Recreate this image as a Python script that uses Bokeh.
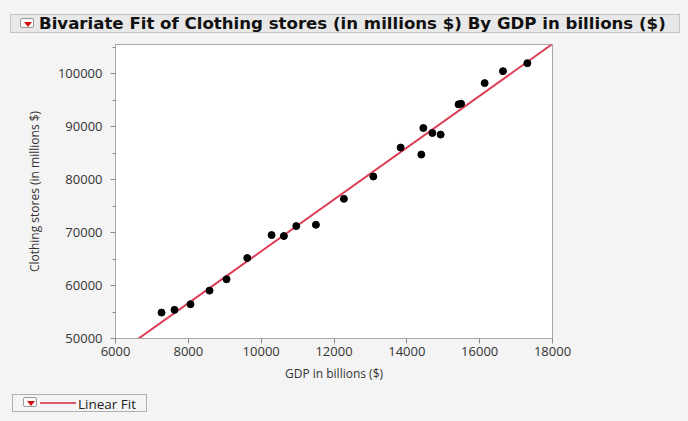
from bokeh.plotting import figure
from bokeh.models import Range1d, FixedTicker, Div, NumeralTickFormatter
from bokeh.layouts import column
from bokeh.embed import file_html
from bokeh.resources import INLINE
import numpy as np

# Data
gdp = [7264, 7621, 8060, 8582, 9049, 9618, 10286, 10624, 10964, 11503, 12272,
       13080, 13830, 14398, 14453, 14701, 14929, 15420, 15490, 16137, 16640, 17310]
clothing = [54896, 55405, 56478, 59040, 61186, 65198, 69529, 69341, 71224, 71469, 76365,
            80584, 86045, 84727, 89736, 88795, 88493, 94200, 94331, 98211, 100471, 101977]

x_ticks = [6000, 8000, 10000, 12000, 14000, 16000, 18000]
y_ticks = [50000, 60000, 70000, 80000, 90000, 100000]

title_text = "Bivariate Fit of Clothing stores (in millions $) By GDP in billions ($)"
x_label = "GDP in billions ($)"
y_label = "Clothing stores (in millions $)"
legend_text = "Linear Fit"

slope, intercept = np.polyfit(gdp, clothing, 1)
fit_x = [x_ticks[0], x_ticks[-1]]
fit_y = [intercept + slope * v for v in fit_x]

FONT = "Open Sans"
BG = "#f4f4f4"
FIT = "#dd3d55"

icon = ('<div style="position:absolute;left:{l}px;top:{t}px;width:14px;height:10px;'
        'background:#fafafa;border:1px solid #9a9a9a;border-radius:2px;">'
        '<div style="position:absolute;left:3px;top:3px;width:0;height:0;'
        'border-left:4px solid transparent;border-right:4px solid transparent;'
        'border-top:5px solid #d01010;"></div></div>')

title_html = ('<div style="position:relative;width:688px;height:40px;">'
              '<div style="position:absolute;left:10px;top:14px;width:670px;height:19px;'
              'background:#e8e8e8;border:1px solid #c4c4c4;"></div>'
              + icon.format(l=20, t=18) +
              '<div style="position:absolute;left:39px;top:12px;height:24px;line-height:24px;'
              'font-family:\'DejaVu Sans\';font-weight:bold;font-size:16.6px;color:#111;'
              'white-space:nowrap;">' + title_text + '</div></div>')
title_div = Div(text=title_html, width=688, height=40,
                styles={"background": BG, "margin": "0", "padding": "0"})

legend_html = ('<div style="position:relative;width:688px;height:31px;">'
               '<div style="position:absolute;left:12px;top:4px;width:135px;height:18px;'
               'background:' + BG + ';border:1px solid #b0b0b0;"></div>'
               + icon.format(l=23, t=7) +
               '<div style="position:absolute;left:40px;top:12px;width:36px;height:2px;'
               'background:#dd5a6e;"></div>'
               '<div style="position:absolute;left:78px;top:2px;height:24px;line-height:24px;'
               'font-family:\'Open Sans\';font-size:13.5px;color:#222;white-space:nowrap;">'
               + legend_text + '</div></div>')
legend_div = Div(text=legend_html, width=688, height=31,
                 styles={"background": BG, "margin": "0", "padding": "0"})

p = figure(width=688, height=350, output_backend="svg", toolbar_location=None,
           x_range=Range1d(6000, 18000), y_range=Range1d(50000, 105500),
           min_border_left=115, min_border_right=136, min_border_top=4, min_border_bottom=52)
p.background_fill_color = "white"
p.border_fill_color = BG
p.outline_line_color = "#a8a8a8"
p.grid.visible = False

p.xaxis.ticker = FixedTicker(ticks=x_ticks)
p.yaxis.ticker = FixedTicker(ticks=y_ticks, minor_ticks=[55000, 65000, 75000, 85000, 95000, 105000])
p.yaxis.formatter = NumeralTickFormatter(format="0")
p.xaxis.formatter = NumeralTickFormatter(format="0")
for ax in (p.xaxis[0], p.yaxis[0]):
    ax.axis_line_color = "#a8a8a8"
    ax.major_tick_line_color = "#8a8a8a"
    ax.minor_tick_line_color = "#8a8a8a"
    ax.major_tick_in = 0
    ax.major_tick_out = 5
    ax.minor_tick_in = 0
    ax.minor_tick_out = 3
    ax.major_label_text_font = FONT
    ax.major_label_text_font_size = "13px"
    ax.major_label_text_color = "#333333"
    ax.axis_label_text_font = FONT
    ax.axis_label_text_font_size = "12px"
    ax.axis_label_text_font_style = "normal"
    ax.axis_label_text_color = "#333333"
p.xaxis.minor_tick_line_color = None
p.xaxis.axis_label = x_label
p.yaxis.axis_label = y_label
p.xaxis.major_label_standoff = 3
p.xaxis.axis_label_standoff = 6
p.yaxis.major_label_standoff = 8
p.yaxis.axis_label_standoff = 12

p.line(fit_x, fit_y, line_color=FIT, line_width=2)
p.scatter(gdp, clothing, size=7, color="black")

layout = column(title_div, p, legend_div, spacing=0, styles={"background": BG})
open("out.html", "w").write(file_html(layout, INLINE))
